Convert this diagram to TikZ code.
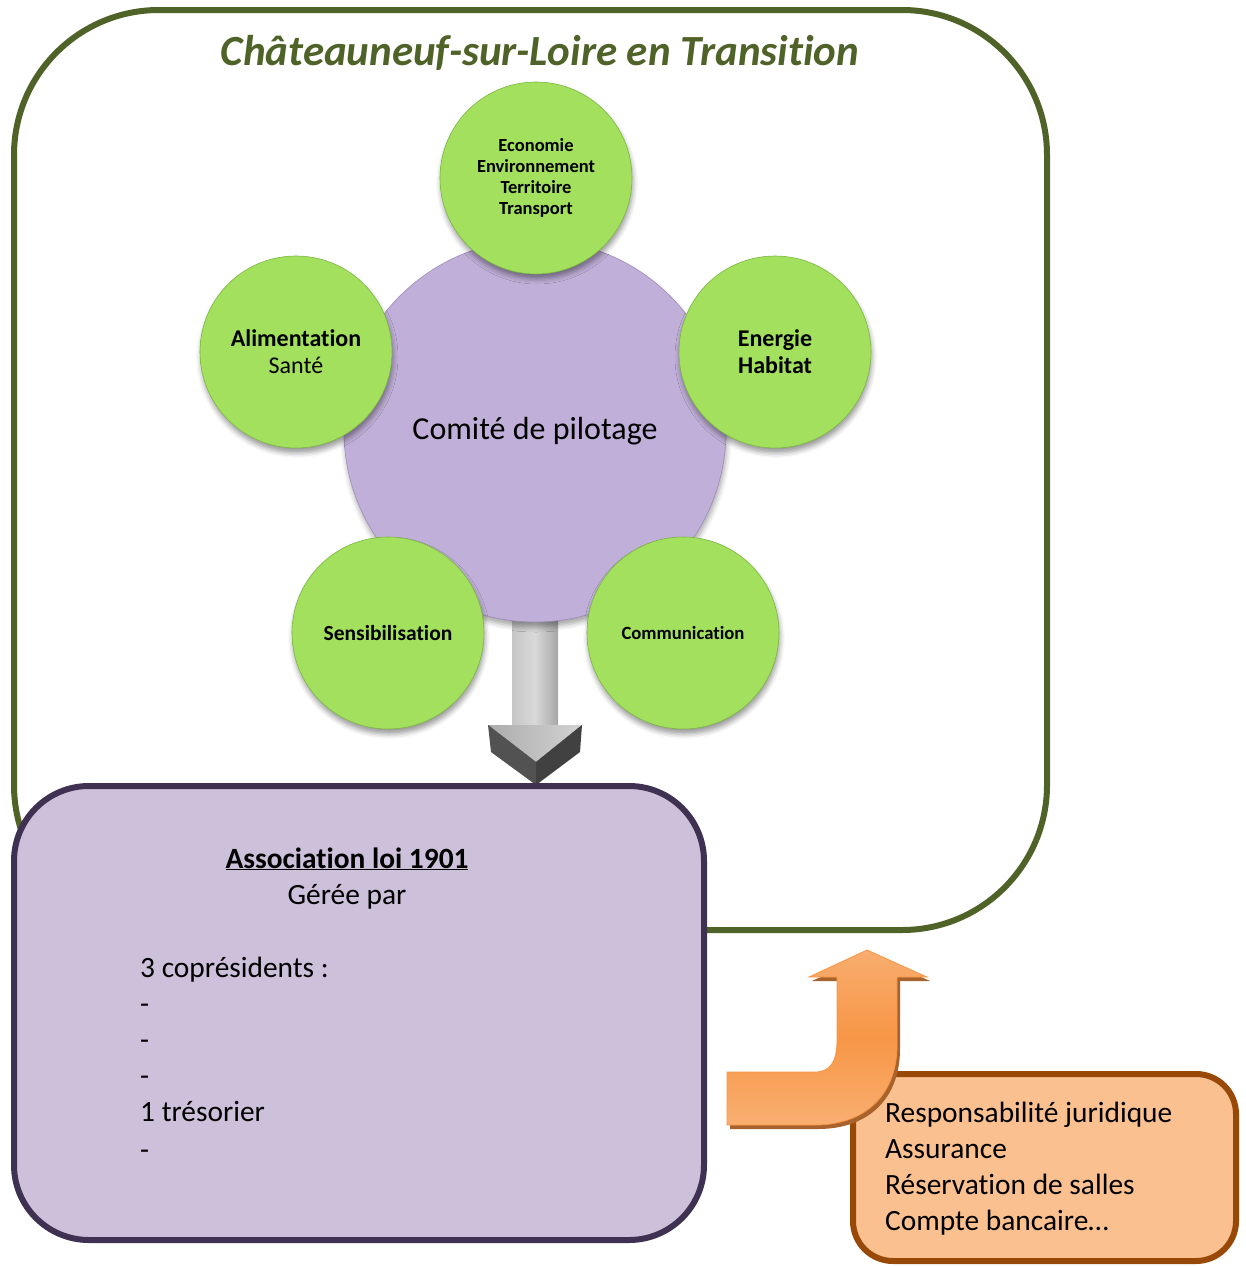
\documentclass[tikz,border=0pt]{standalone}
\usepackage{fontspec}
\setmainfont{Carlito}[Ligatures={NoCommon}]
\usetikzlibrary{shadows.blur}
\definecolor{frameG}{HTML}{4F6228}
\definecolor{gA}{HTML}{A2E05E}
\definecolor{gB}{HTML}{86C24A}
\definecolor{gEdge}{HTML}{7DB544}
\definecolor{pA}{HTML}{C0AFD8}
\definecolor{pB}{HTML}{B09DC8}
\definecolor{pEdge}{HTML}{A08CBA}
\definecolor{assocFill}{HTML}{CCC0DA}
\definecolor{assocLine}{HTML}{3F3151}
\definecolor{orFill}{HTML}{FAC090}
\definecolor{orLine}{HTML}{984807}
\definecolor{orMid}{HTML}{F79646}
\pgfdeclareradialshading{greenball}{\pgfpoint{0bp}{0bp}}{color(0bp)=(gA); color(40bp)=(gA); color(50bp)=(gB)}
\pgfdeclareradialshading{purpball}{\pgfpoint{0bp}{0bp}}{color(0bp)=(pA); color(42bp)=(pA); color(50bp)=(pB)}
\pgfdeclareverticalshading{orshade}{100bp}{color(0bp)=(orFill); color(20bp)=(orFill!70!orMid); color(50bp)=(orMid); color(75bp)=(orFill!55!orMid); color(100bp)=(orFill)}
\begin{document}
\begin{tikzpicture}[x=1pt,y=-1pt,
  gball/.style={circle, minimum size=192pt, inner sep=0pt, shading=greenball, draw=gEdge, line width=0.6pt,
     blur shadow={shadow xshift=1pt, shadow yshift=-5pt, shadow opacity=40, shadow blur radius=5pt}, align=center},
  listtxt/.style={font=\fontsize{29.4}{36}\selectfont, anchor=base west, inner sep=0pt}
]
\useasboundingbox (0,0) rectangle (1246,1266);
% outer frame
\draw[frameG, line width=6pt, rounded corners=145pt] (14,10) rectangle (1047,930);
\node[font=\bfseries\itshape\fontsize{43}{50}\selectfont, text=frameG, anchor=base] (title) at (540,65) {Châteauneuf-sur-Loire en Transition};

% grey arrow
\shade[left color=gray!45, right color=gray!70, middle color=gray!30] (512,600) rectangle (558,726);
\fill[left color=gray!65, right color=gray!35] (488,725) -- (582,725) -- (536,762) -- cycle;
\fill[gray!30!black!80] (488,725) -- (491,752) -- (536,785) -- (536,762) -- cycle;
\fill[gray!25!black!85] (536,762) -- (536,785) -- (580,752) -- (582,725) -- cycle;
\coordinate (arrowtip) at (536,785);

% central circle
\node[circle, minimum size=382pt, inner sep=0pt, shading=purpball, draw=pEdge, line width=0.6pt,
   blur shadow={shadow xshift=1pt, shadow yshift=-5pt, shadow opacity=35, shadow blur radius=5pt},
   font=\fontsize{32}{38}\selectfont] (comite) at (535,431) {Comité de pilotage};

% green circles
\node[gball, font=\bfseries\fontsize{18.5}{21}\selectfont] (eco) at (536,178) {Economie\\Environnement\\Territoire\\Transport};
\node[gball, font=\bfseries\fontsize{24}{27}\selectfont] (energie) at (775,352) {Energie\\Habitat};
\node[gball, font=\bfseries\fontsize{24}{27}\selectfont] (alim) at (296,352) {Alimentation\\\mdseries Santé};
\node[gball, font=\bfseries\fontsize{21.5}{25}\selectfont] (sensi) at (388,633) {Sensibilisation};
\node[gball, font=\bfseries\fontsize{18.7}{22}\selectfont] (comm) at (683,633) {Communication};

% association box
\draw[assocLine, fill=assocFill, line width=6pt, rounded corners=75pt] (14,786) rectangle (704,1240);
\node[anchor=base, inner sep=0pt, font=\bfseries\fontsize{29.4}{34}\selectfont] (assoc) at (347,868) {\underline{Association loi 1901}};
\node[anchor=base, inner sep=0pt, font=\fontsize{29.4}{34}\selectfont] (geree) at (347,904) {Gérée par};
\node[listtxt] (l1) at (140,977) {3 coprésidents :};
\node[listtxt] (l2) at (140,1013) {-};
\node[listtxt] (l3) at (140,1049) {-};
\node[listtxt] (l4) at (140,1085) {-};
\node[listtxt] (l5) at (140,1121) {1 trésorier};
\node[listtxt] (l6) at (140,1159) {-};

% orange box
\draw[orLine, fill=orFill, line width=6pt, rounded corners=40pt] (853,1074) rectangle (1236,1261);
\node[listtxt] (o1) at (885,1122) {Responsabilité juridique};
\node[listtxt] (o2) at (885,1158) {Assurance};
\node[listtxt] (o3) at (885,1194) {Réservation de salles};
\node[listtxt] (o4) at (885,1230) {Compte bancaire…};

% orange U arrow
\def\uarrow{(727,1072) -- (815,1072) .. controls (830,1072) and (837,1062) .. (837,1040) -- (837,977) -- (809,977) -- (867,950) -- (927,977) -- (897,977) -- (897,1045) .. controls (897,1095) and (865,1125) .. (815,1125) -- (727,1125) -- cycle}
\fill[orLine!85] [shift={(3pt,-4pt)}] \uarrow;
\shade[shading=orshade, draw=orMid, line width=0.8pt] \uarrow;
\end{tikzpicture}
\end{document}
